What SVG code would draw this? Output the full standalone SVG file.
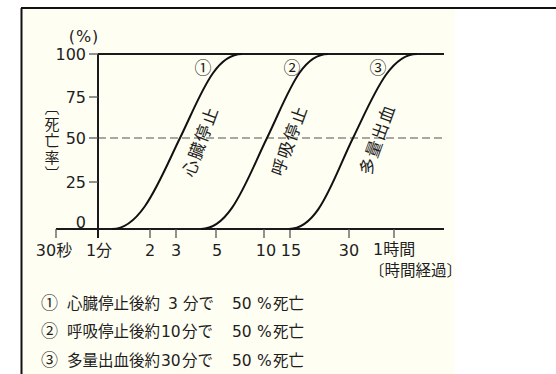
<svg xmlns="http://www.w3.org/2000/svg" width="556" height="374" viewBox="0 0 556 374">
  <style>
    text { font-family: "DejaVu Sans", "Noto Sans CJK JP", sans-serif; fill: #1e1e1e; }
    .t16 { font-size: 16px; }
    .leg { font-size: 15.5px; }
    .cjk { font-family: "Noto Sans CJK JP", sans-serif; }
    .lc { font-family: "Noto Sans CJK JP", sans-serif; font-size: 17px; }
    .axis { stroke: #1a1a1a; stroke-width: 2; fill: none; }
    .tick { stroke: #555; stroke-width: 1.3; fill: none; }
    .curve { stroke: #111; stroke-width: 2; fill: none; }
    .dash { stroke: #8a8a8a; stroke-width: 1.3; stroke-dasharray: 8 4; fill: none; }
    .rot { font-family: "Noto Sans CJK JP", sans-serif; font-size: 17px; letter-spacing: 1.5px; }
    .circ { font-family: "Noto Sans CJK JP", sans-serif; font-size: 17px; }
    .vl { font-family: "Noto Sans CJK JP", sans-serif; font-size: 15px; writing-mode: vertical-rl; letter-spacing: 1.5px; }
  </style>
  <defs>
    <clipPath id="paper"><rect x="21" y="8" width="434" height="366"/></clipPath>
  </defs>
  <rect width="556" height="374" fill="#ffffff"/>
  <rect x="22" y="9" width="433" height="365" fill="#fffef3"/>
  <g id="frame">
    <line x1="21.5" y1="8" x2="21.5" y2="374" stroke="#111" stroke-width="2"/>
    <line x1="21" y1="8" x2="556" y2="8" stroke="#111" stroke-width="2"/>
  </g>
  <g id="chart" clip-path="url(#paper)">
    <g id="grid">
      <line class="dash" x1="98" y1="138" x2="444" y2="138"/>
      <line class="axis" x1="98" y1="54" x2="444" y2="54"/>
      <line class="axis" x1="56" y1="229" x2="444" y2="229"/>
      <line class="axis" x1="98" y1="54" x2="98" y2="238"/>
    </g>
    <g id="yticks">
      <line class="tick" x1="89" y1="54" x2="98" y2="54"/>
      <line class="tick" x1="89" y1="97" x2="98" y2="97"/>
      <line class="tick" x1="89" y1="138" x2="98" y2="138"/>
      <line class="tick" x1="89" y1="182" x2="98" y2="182"/>
      <text class="t16" x="86" y="60" text-anchor="end">100</text>
      <text class="t16" x="86" y="103" text-anchor="end">75</text>
      <text class="t16" x="86" y="144" text-anchor="end">50</text>
      <text class="t16" x="86" y="188" text-anchor="end">25</text>
      <text class="t16" x="86" y="228" text-anchor="end">0</text>
      <text x="84" y="42" font-size="16" letter-spacing="1" text-anchor="middle">(%)</text>
    </g>
    <g id="ylabel">
      <text class="vl" x="52" y="100">〔死亡率〕</text>
    </g>
    <g id="xticks">
      <line class="tick" x1="56" y1="229" x2="56" y2="238"/>
      <line class="tick" x1="150" y1="229" x2="150" y2="238"/>
      <line class="tick" x1="176" y1="229" x2="176" y2="238"/>
      <line class="tick" x1="216" y1="229" x2="216" y2="238"/>
      <line class="tick" x1="264" y1="229" x2="264" y2="238"/>
      <line class="tick" x1="290" y1="229" x2="290" y2="238"/>
      <line class="tick" x1="349" y1="229" x2="349" y2="238"/>
      <line class="tick" x1="394" y1="229" x2="394" y2="238"/>
      <text class="t16" x="54" y="256" text-anchor="middle">30秒</text>
      <text class="t16" x="99" y="256" text-anchor="middle">1分</text>
      <text class="t16" x="150" y="256" text-anchor="middle">2</text>
      <text class="t16" x="176" y="256" text-anchor="middle">3</text>
      <text class="t16" x="217" y="256" text-anchor="middle">5</text>
      <text class="t16" x="266" y="256" text-anchor="middle">10</text>
      <text class="t16" x="291" y="256" text-anchor="middle">15</text>
      <text class="t16" x="349" y="256" text-anchor="middle">30</text>
      <text class="t16" x="373" y="255">1時間</text>
      <text class="cjk" x="369" y="276" font-size="15.5">〔時間経過〕</text>
    </g>
    <g id="connectors">
      <path class="curve" d="M112 229 C142 229 160.4 178 180 138 C199.6 98 214 54 242 54"/>
      <path class="curve" d="M201 229 C231 229 247.4 178 267 138 C286.6 98 300 54 328 54"/>
      <path class="curve" d="M289 229 C319 229 333.4 178 353 138 C372.6 98 389 54 417 54"/>
    </g>
    <g id="curve1">
      <text class="circ" x="203" y="66" text-anchor="middle" dominant-baseline="central">①</text>
      <text class="rot" x="0" y="0" text-anchor="middle" dominant-baseline="central" transform="translate(199 141) rotate(-70)">心臓停止</text>
    </g>
    <g id="curve2">
      <text class="circ" x="292" y="66" text-anchor="middle" dominant-baseline="central">②</text>
      <text class="rot" x="0" y="0" text-anchor="middle" dominant-baseline="central" transform="translate(288 140) rotate(-70)">呼吸停止</text>
    </g>
    <g id="curve3">
      <text class="circ" x="378" y="66" text-anchor="middle" dominant-baseline="central">③</text>
      <text class="rot" x="0" y="0" text-anchor="middle" dominant-baseline="central" transform="translate(376 139) rotate(-70)">多量出血</text>
    </g>
    <g id="legend">
      <text class="leg" y="309"><tspan class="lc" x="41">①</tspan><tspan class="cjk" x="67">心臓停止後約</tspan><tspan x="168">3</tspan><tspan class="cjk" x="183">分で</tspan><tspan x="232">50</tspan><tspan x="257">%</tspan><tspan class="cjk" x="273">死亡</tspan></text>
      <text class="leg" y="337"><tspan class="lc" x="41">②</tspan><tspan class="cjk" x="67">呼吸停止後約</tspan><tspan x="161">10</tspan><tspan class="cjk" x="182">分で</tspan><tspan x="232">50</tspan><tspan x="257">%</tspan><tspan class="cjk" x="273">死亡</tspan></text>
      <text class="leg" y="366"><tspan class="lc" x="41">③</tspan><tspan class="cjk" x="67">多量出血後約</tspan><tspan x="161">30</tspan><tspan class="cjk" x="182">分で</tspan><tspan x="232">50</tspan><tspan x="257">%</tspan><tspan class="cjk" x="273">死亡</tspan></text>
    </g>
  </g>
</svg>
